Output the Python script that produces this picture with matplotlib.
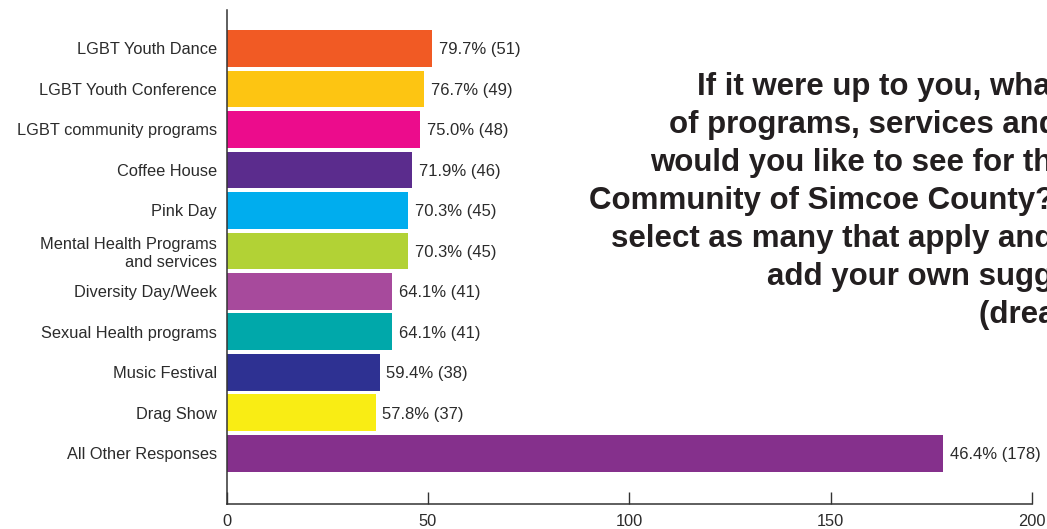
import matplotlib
matplotlib.use('Agg')
import matplotlib.pyplot as plt

categories = ['LGBT Youth Dance', 'LGBT Youth Conference', 'LGBT community programs',
              'Coffee House', 'Pink Day', 'Mental Health Programs\nand services',
              'Diversity Day/Week', 'Sexual Health programs', 'Music Festival',
              'Drag Show', 'All Other Responses']
counts = [51, 49, 48, 46, 45, 45, 41, 41, 38, 37, 178]
percents = ['79.7%', '76.7%', '75.0%', '71.9%', '70.3%', '70.3%',
            '64.1%', '64.1%', '59.4%', '57.8%', '46.4%']
colors = ['#F15A24', '#FDC512', '#EC0C8C', '#5B2C8D', '#00ADEE', '#B2D235',
          '#A74A9C', '#00A8AA', '#2E3192', '#F9ED14', '#85308C']
xticks = [0, 50, 100, 150, 200]

# the question text runs off the right edge in the original, kept that way
title_lines = ['If it were up to you, what kind',
               'of programs, services and events',
               'would you like to see for the LGBT',
               "Community of Simcoe County? Please",
               'select as many that apply and/or',
               'add your own suggestions',
               '(dream big!)']
title_x = [697, 669, 650, 589, 611, 767, 979]

plt.rcParams['font.family'] = ['Liberation Sans', 'DejaVu Sans']
txt = '#2b2b2b'

fig = plt.figure(figsize=(10.47, 5.29), dpi=100)
W, H = 1047, 529
ax = fig.add_axes([226.5 / W, 25 / H, 805.5 / W, 494 / H])

pos = list(range(len(categories)))
ax.barh(pos, counts, height=0.91, color=colors)
for p, c, pc in zip(pos, counts, percents):
    ax.annotate(f'{pc} ({c})', (c, p), xytext=(5, 0), textcoords='offset points',
                va='center_baseline', ha='left', fontsize=12, color=txt)

ax.set_xlim(0, 200)
ax.set_ylim(11.25, -0.95)
ax.set_xticks(xticks)
ax.set_yticks(pos)
ax.set_yticklabels(categories, fontsize=11.8, color=txt, ha='right')
ax.tick_params(axis='y', length=0, pad=7)
ax.tick_params(axis='x', direction='in', length=9, width=1, color='#333333',
               labelsize=11.8, labelcolor=txt, pad=7)
for s in ['top', 'right']:
    ax.spines[s].set_visible(False)
for s in ['left', 'bottom']:
    ax.spines[s].set_color('#333333')
    ax.spines[s].set_linewidth(1.1)

for i, (line, x) in enumerate(zip(title_lines, title_x)):
    fig.text(x / W, 1 - (95 + 38 * i) / H, line, ha='left', va='baseline',
             fontsize=22.5, fontweight='bold', color='#231F20')

fig.savefig('out.png', dpi=100)
